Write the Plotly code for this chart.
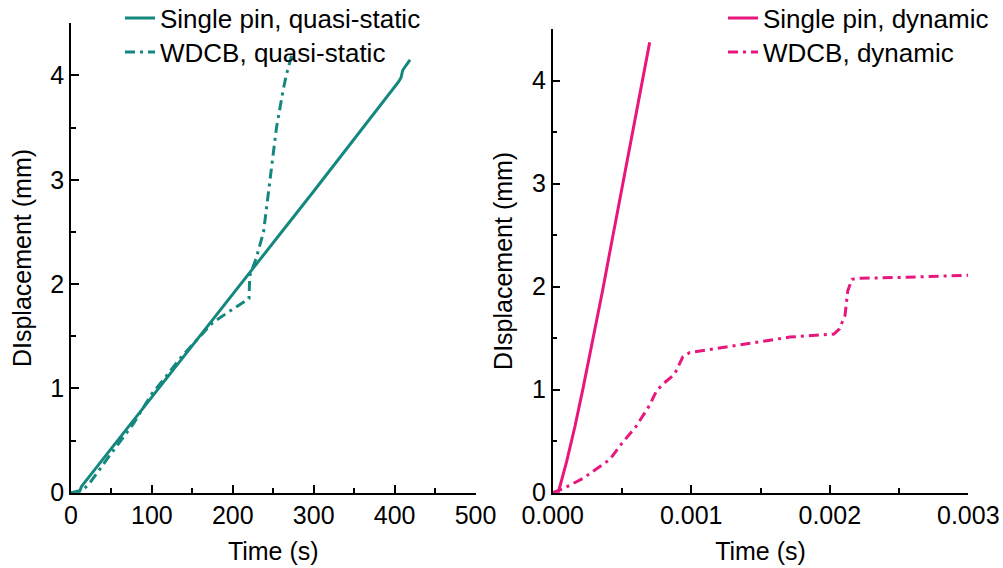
import plotly.graph_objects as go

# ---- data ----
t_pin_qs = [0, 11, 13, 100, 200, 300, 405, 408, 410, 419]
d_pin_qs = [0, 0.02, 0.06, 0.92, 1.90, 2.89, 3.94, 3.98, 4.05, 4.15]

t_wdcb_qs = [0, 8, 15, 22, 50, 77, 100, 114, 135, 159, 175, 200, 217, 220, 221,
             229, 238, 246, 254, 262, 266, 273]
d_wdcb_qs = [0, 0, 0.03, 0.08, 0.38, 0.66, 0.95, 1.08, 1.29, 1.50, 1.63, 1.76, 1.84,
             1.86, 2.08, 2.25, 2.50, 3.00, 3.50, 3.85, 4.00, 4.20]

t_pin_dyn = [0, 0.00004, 0.0001, 0.00016, 0.00022, 0.00029, 0.00036, 0.00042,
             0.0005, 0.0006, 0.0007]
d_pin_dyn = [0, 0, 0.30, 0.64, 1.02, 1.48, 1.96, 2.39, 2.96, 3.67, 4.37]

t_wdcb_dyn = [0, 0.000077, 0.00022, 0.00041, 0.0005, 0.0006, 0.0007, 0.00075,
              0.0008, 0.00088, 0.00094, 0.00099, 0.00118, 0.00142, 0.00171,
              0.00203, 0.00207, 0.00211, 0.00213, 0.00216, 0.00219, 0.00255, 0.003]
d_wdcb_dyn = [0, 0.04, 0.14, 0.32, 0.48, 0.64, 0.85, 0.99, 1.06, 1.15, 1.32, 1.36,
              1.40, 1.45, 1.51, 1.54, 1.59, 1.72, 1.96, 2.07, 2.08, 2.09, 2.11]

left_xticks = [0, 100, 200, 300, 400, 500]
right_xticks = [0, 0.001, 0.002, 0.003]
right_xlabels = ["0.000", "0.001", "0.002", "0.003"]
yticks = [0, 1, 2, 3, 4]

TEAL = "#14887F"
PINK = "#E8167D"
FONT = "Arial, Liberation Sans, sans-serif"
DASHDOT = "10px,5px,3px,5px"

fig = go.Figure()
fig.add_trace(go.Scatter(x=t_pin_qs, y=d_pin_qs, mode="lines",
                         name="Single pin, quasi-static",
                         line=dict(color=TEAL, width=3),
                         xaxis="x", yaxis="y", legend="legend"))
fig.add_trace(go.Scatter(x=t_wdcb_qs, y=d_wdcb_qs, mode="lines",
                         name="WDCB, quasi-static",
                         line=dict(color=TEAL, width=3, dash=DASHDOT),
                         xaxis="x", yaxis="y", legend="legend2"))
fig.add_trace(go.Scatter(x=t_pin_dyn, y=d_pin_dyn, mode="lines",
                         name="Single pin, dynamic",
                         line=dict(color=PINK, width=3),
                         xaxis="x2", yaxis="y2", legend="legend3"))
fig.add_trace(go.Scatter(x=t_wdcb_dyn, y=d_wdcb_dyn, mode="lines",
                         name="WDCB, dynamic",
                         line=dict(color=PINK, width=3, dash=DASHDOT),
                         xaxis="x2", yaxis="y2", legend="legend4"))

W, H = 1003, 568
TICKF = dict(family=FONT, size=25, color="black")
TITLEF = dict(family=FONT, size=25, color="black")
LEGF = dict(family=FONT, size=26, color="black")
axis_common = dict(showline=True, linecolor="black", linewidth=1.5,
                   ticks="inside", ticklen=8, tickwidth=1.5, tickcolor="black",
                   showgrid=False, zeroline=False, automargin=False,
                   tickfont=TICKF, mirror=False)
minor_common = dict(ticks="inside", ticklen=5, tickwidth=1.5, tickcolor="black")


def leg(xpx, ypx):
    return dict(x=xpx / W, y=1 - ypx / H, xanchor="left", yanchor="middle",
                bgcolor="rgba(0,0,0,0)", font=LEGF, itemwidth=30,
                borderwidth=0, visible=True)


fig.update_layout(
    width=W, height=H, showlegend=True,
    margin=dict(l=0, r=0, t=0, b=0, autoexpand=False),
    paper_bgcolor="white", plot_bgcolor="white",
    font=dict(family=FONT, size=24, color="black"),
    xaxis=dict(domain=[71 / W, 475.5 / W], range=[0, 500],
               tickvals=left_xticks, minor=dict(dtick=50, **minor_common),
               title=dict(text="Time (s)", font=TITLEF, standoff=14),
               anchor="y", **axis_common),
    yaxis=dict(domain=[(H - 492.7) / H, (H - 23.3) / H], range=[0, 4.5],
               tickvals=yticks, minor=dict(dtick=0.5, **minor_common),
               title=dict(text="DIsplacement (mm)", font=TITLEF, standoff=12),
               anchor="x", **axis_common),
    xaxis2=dict(domain=[552.7 / W, 968.3 / W], range=[0, 0.003],
                tickvals=right_xticks, ticktext=right_xlabels,
                minor=dict(dtick=0.0005, **minor_common),
                title=dict(text="Time (s)", font=TITLEF, standoff=14),
                anchor="y2", **axis_common),
    yaxis2=dict(domain=[(H - 492.7) / H, (H - 29) / H], range=[0, 4.5],
                tickvals=yticks, minor=dict(dtick=0.5, **minor_common),
                title=dict(text="DIsplacement (mm)", font=TITLEF, standoff=12),
                anchor="x2", **axis_common),
    legend=leg(120, 18),
    legend2=leg(120, 52),
    legend3=leg(723, 18),
    legend4=leg(723, 52),
)

fig.write_html("out.html",
               config={"displayModeBar": False},
               post_script="document.body.style.margin='0';document.body.style.overflow='hidden';")
